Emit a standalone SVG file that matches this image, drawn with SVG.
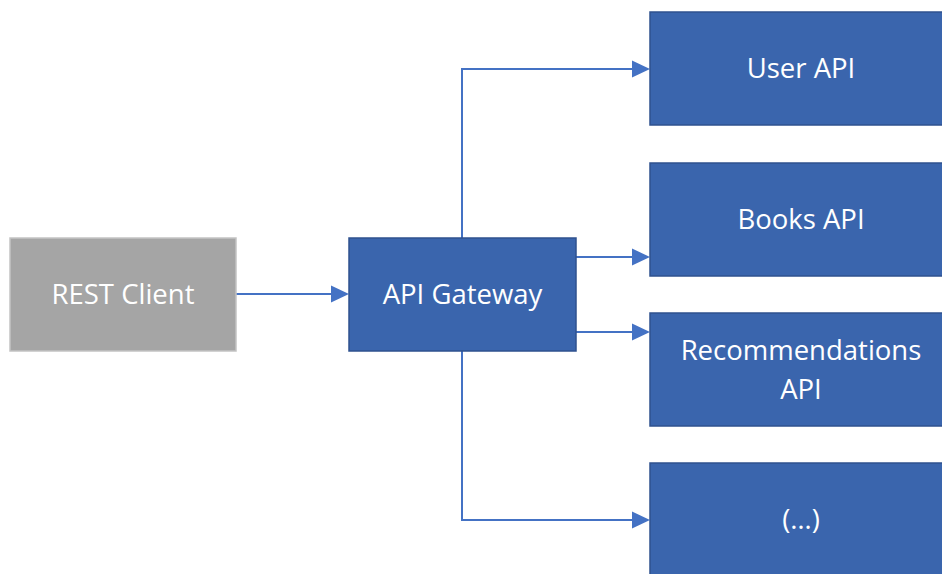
<svg xmlns="http://www.w3.org/2000/svg" width="942" height="574" viewBox="0 0 942 574">
  <style>
    .client { fill: #a5a5a5; stroke: #c3c3c3; stroke-width: 1.5; }
    .svc { fill: #3a65ad; stroke: #2f528f; stroke-width: 1.5; }
    .label { font-family: "Open Sans", "Liberation Sans", sans-serif; font-size: 27.5px; fill: #ffffff; text-anchor: middle; }
    .edge { fill: none; stroke: #4472c4; stroke-width: 2; }
    .head { fill: #4472c4; }
  </style>
  <defs>
    <!-- filled arrowhead, tip at origin, pointing right -->
    <path id="head" class="head" d="M-18,-8.5 L0,0 L-18,8.5 Z"/>
  </defs>
  <rect width="942" height="574" fill="#ffffff"/>

  <g id="connectors">
    <path class="edge" d="M236,294 H334"/>
    <path class="edge" d="M462,238 V69 H635"/>
    <path class="edge" d="M576,257 H635"/>
    <path class="edge" d="M576,332 H635"/>
    <path class="edge" d="M462,351 V520 H635"/>
    <use href="#head" x="349" y="294"/>
    <use href="#head" x="650" y="69"/>
    <use href="#head" x="650" y="257"/>
    <use href="#head" x="650" y="332"/>
    <use href="#head" x="650" y="520"/>
  </g>

  <g id="rest-client">
    <rect class="client" x="10" y="238" width="226" height="113"/>
    <text class="label" x="123" y="304">REST Client</text>
  </g>
  <g id="api-gateway">
    <rect class="svc" x="349" y="238" width="227" height="113"/>
    <text class="label" x="462.5" y="304">API Gateway</text>
  </g>
  <g id="user-api">
    <rect class="svc" x="650" y="12" width="302" height="113"/>
    <text class="label" x="801" y="77.5">User API</text>
  </g>
  <g id="books-api">
    <rect class="svc" x="650" y="163" width="302" height="113"/>
    <text class="label" x="801" y="228.5">Books API</text>
  </g>
  <g id="recommendations-api">
    <rect class="svc" x="650" y="313" width="302" height="113"/>
    <text class="label" x="801" y="360">Recommendations</text>
    <text class="label" x="801" y="399">API</text>
  </g>
  <g id="more-apis">
    <rect class="svc" x="650" y="463" width="302" height="113"/>
    <text class="label" x="801" y="528.5">(…)</text>
  </g>
</svg>
